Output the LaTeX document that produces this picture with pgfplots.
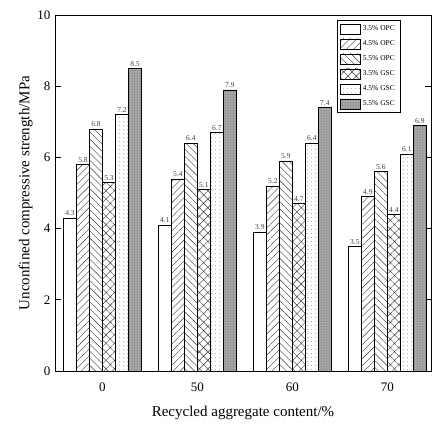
\documentclass[border=0pt]{standalone}
\usepackage{fontspec}
\setmainfont{Liberation Serif}
\usepackage{pgfplots}
\pgfplotsset{compat=1.18}
\usetikzlibrary{patterns.meta}

\pgfplotstableread{
x  a   b   c   d   e   f
0  4.3 5.8 6.8 5.3 7.2 8.5
1  4.1 5.4 6.4 5.1 6.7 7.9
2  3.9 5.2 5.9 4.7 6.4 7.4
3  3.5 4.9 5.6 4.4 6.1 6.9
}\ucs

\begin{document}
\begin{tikzpicture}
\begin{axis}[
    scale only axis,
    width=376pt, height=356pt,
    ybar=0pt, bar width=13pt,
    xmin=-0.5, xmax=3.46,
    ymin=0, ymax=10,
    xtick={0,1,2,3},
    xticklabels={0,50,60,70},
    xtick style={draw=none},
    ytick={0,2,4,6,8,10},
    tick align=inside,
    major tick length=6pt,
    axis line style={line width=0.9pt},
    tick style={line width=0.9pt, black},
    /pgf/number format/assume math mode=true,
    tick label style={font=\fontsize{13}{14}\selectfont},
    xticklabel style={yshift=-8pt},
    yticklabel style={xshift=-1pt},
    xlabel={Recycled aggregate content/\%},
    ylabel={Unconfined compressive strength/MPa},
    label style={font=\fontsize{15}{17}\selectfont},
    xlabel style={yshift=-8pt},
    ylabel style={yshift=-2pt},
    nodes near coords,
    every node near coord/.append style={font=\fontsize{7.5}{8}\selectfont, black!75, yshift=-1.5pt},
    legend style={at={(0.918,0.985)}, anchor=north east, draw=black, line width=0.5pt,
        font=\fontsize{7.5}{9}\selectfont, row sep=4.5pt, inner sep=3pt},
    legend cell align=left,
    legend image code/.code={\draw[#1, line width=0.5pt] (0pt,-5pt) rectangle (20pt,5pt);},
    clip=false,
]
\addplot[draw=black, fill=white, line width=0.5pt] table[x=x,y=a]{\ucs};
\addlegendentry{3.5\% OPC}
\addplot[draw=black, line width=0.5pt, pattern={Lines[angle=45,distance=5pt,line width=0.4pt]}, pattern color=black!80] table[x=x,y=b]{\ucs};
\addlegendentry{4.5\% OPC}
\addplot[draw=black, line width=0.5pt, pattern={Lines[angle=-45,distance=5pt,line width=0.4pt]}, pattern color=black!80] table[x=x,y=c]{\ucs};
\addlegendentry{5.5\% OPC}
\addplot[draw=black, line width=0.5pt, pattern={Hatch[angle=45,distance=6pt,line width=0.4pt]}, pattern color=black!80] table[x=x,y=d]{\ucs};
\addlegendentry{3.5\% GSC}
\addplot[draw=black, line width=0.5pt, pattern={Dots[distance=4pt,radius=0.4pt]}, pattern color=black!70] table[x=x,y=e]{\ucs};
\addlegendentry{4.5\% GSC}
\addplot[draw=black, line width=0.5pt, fill=gray!60, postaction={pattern={Dots[distance=1.6pt,radius=0.45pt]}, pattern color=black!60}] table[x=x,y=f]{\ucs};
\addlegendentry{5.5\% GSC}
\coordinate (bl) at (rel axis cs:0,0);
\coordinate (tr) at (rel axis cs:1,1);
\end{axis}
\path ([xshift=-55pt,yshift=-53pt]bl) rectangle ([xshift=1pt,yshift=15pt]tr);
\end{tikzpicture}
\end{document}
